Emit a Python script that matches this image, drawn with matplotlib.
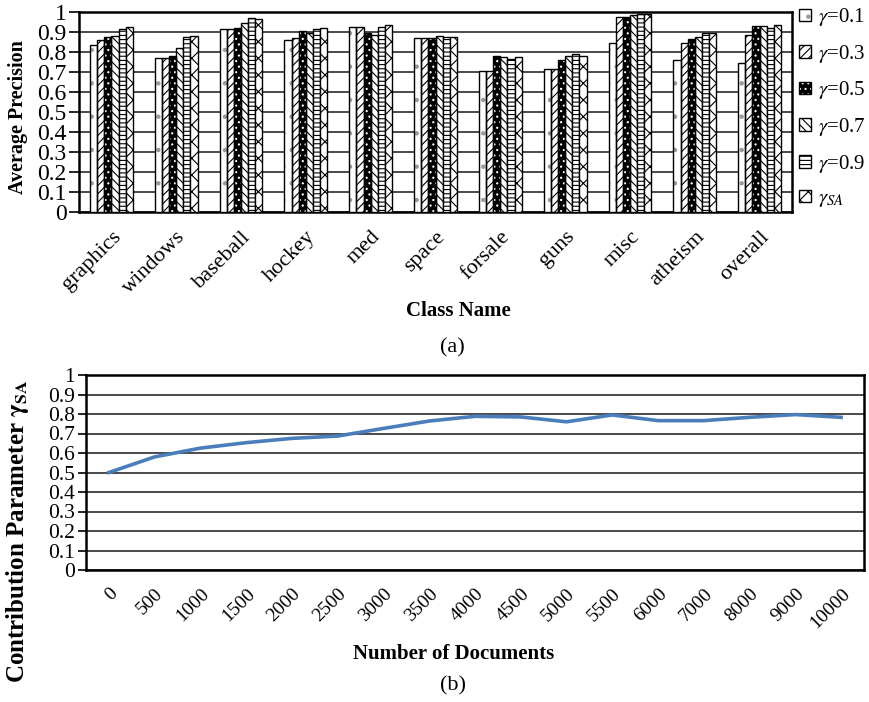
import numpy as np
import matplotlib
matplotlib.use("Agg")
from matplotlib import pyplot as plt
from matplotlib.patches import Patch
from matplotlib.legend_handler import HandlerTuple

plt.rcParams['font.family'] = ['Liberation Serif', 'DejaVu Serif']
plt.rcParams['mathtext.fontset'] = 'stix'
plt.rcParams['hatch.linewidth'] = 0.8

# (a) average precision per class
classes = ['graphics', 'windows', 'baseball', 'hockey', 'med', 'space',
           'forsale', 'guns', 'misc', 'atheism', 'overall']
ap_g01 = [0.837, 0.768, 0.917, 0.862, 0.927, 0.870, 0.707, 0.715, 0.847, 0.758, 0.747]
ap_g03 = [0.858, 0.768, 0.913, 0.872, 0.927, 0.870, 0.707, 0.715, 0.973, 0.845, 0.885]
ap_g05 = [0.875, 0.782, 0.920, 0.905, 0.895, 0.870, 0.780, 0.758, 0.973, 0.863, 0.928]
ap_g07 = [0.880, 0.818, 0.947, 0.897, 0.887, 0.878, 0.777, 0.778, 0.987, 0.873, 0.932]
ap_g09 = [0.917, 0.877, 0.972, 0.917, 0.927, 0.873, 0.767, 0.790, 0.992, 0.893, 0.920]
ap_gsa = [0.923, 0.880, 0.967, 0.922, 0.937, 0.873, 0.777, 0.782, 0.992, 0.895, 0.933]
series_labels = [r'$\gamma$=0.1', r'$\gamma$=0.3', r'$\gamma$=0.5',
                 r'$\gamma$=0.7', r'$\gamma$=0.9', r'$\gamma_{SA}$']

# (b) contribution parameter vs number of documents
doc_labels = ['0', '500', '1000', '1500', '2000', '2500', '3000', '3500', '4000',
              '4500', '5000', '5500', '6000', '7000', '8000', '9000', '10000']
gamma_sa = [0.500, 0.580, 0.625, 0.653, 0.675, 0.687, 0.726, 0.764, 0.788,
            0.785, 0.760, 0.795, 0.766, 0.766, 0.783, 0.797, 0.783]

ytick_text = ['0', '0.1', '0.2', '0.3', '0.4', '0.5', '0.6', '0.7', '0.8', '0.9', '1']

fig = plt.figure(figsize=(8.69, 7.02), dpi=100)
grid_kw = dict(color='#2b2b2b', linewidth=1.2)

# ---- top: grouped bars ----
ax1 = fig.add_axes([79/869, 1-212/702, 713/869, 200/702])
series = [ap_g01, ap_g03, ap_g05, ap_g07, ap_g09, ap_gsa]
hatches = ['.', '////', '...', '\\\\\\\\', '----', 'xx']
x = np.arange(len(classes))
w = 0.11
handles = []
for i, vals in enumerate(series):
    pos = x + (i - 2.5) * w
    if i == 2:
        # black bars with white dots
        ax1.bar(pos, vals, w, facecolor='black', edgecolor='white', hatch=hatches[i], lw=0, zorder=3)
        ax1.bar(pos, vals, w, fill=False, edgecolor='black', lw=1.0, zorder=4)
        h = (Patch(facecolor='black', edgecolor='white', hatch=hatches[i], lw=0),
             Patch(fill=False, edgecolor='black', lw=1.0))
    elif i == 0:
        # faint grey dots on white
        ax1.bar(pos, vals, w, facecolor='white', edgecolor='#9a9a9a', hatch=hatches[i], lw=0, zorder=3)
        ax1.bar(pos, vals, w, fill=False, edgecolor='black', lw=1.0, zorder=4)
        h = (Patch(facecolor='white', edgecolor='#9a9a9a', hatch=hatches[i], lw=0),
             Patch(fill=False, edgecolor='black', lw=1.0))
    else:
        ax1.bar(pos, vals, w, facecolor='white', edgecolor='black', hatch=hatches[i], lw=1.0, zorder=3)
        h = Patch(facecolor='white', edgecolor='black', hatch=hatches[i], lw=1.0)
    handles.append(h)

ax1.set_xlim(-0.5, len(classes) - 0.5)
ax1.set_ylim(0, 1)
ax1.set_yticks(np.arange(0, 1.01, 0.1))
ax1.set_yticklabels(ytick_text)
ax1.yaxis.grid(True, **grid_kw)
ax1.set_axisbelow(True)
ax1.set_xticks(x)
ax1.set_xticklabels(classes, rotation=45, ha='right', va='top', rotation_mode='anchor')
ax1.tick_params(axis='x', length=0, labelsize=16, pad=11)
ax1.tick_params(axis='y', length=7, width=1.2, labelsize=17, pad=2)
for s in ax1.spines.values():
    s.set_linewidth(1.8)
ax1.legend(handles, series_labels, handler_map={tuple: HandlerTuple(ndivide=1)},
           loc='upper left', bbox_to_anchor=(1.0, 1.065), frameon=False,
           fontsize=15, handlelength=0.55, handleheight=0.55, handletextpad=0.35,
           labelspacing=0.7, borderaxespad=0.0, borderpad=0.35)

fig.text(18/869, 1-117/702, 'Average Precision', rotation=90, ha='center', va='center',
         fontsize=14.5, fontweight='bold')
fig.text(458/869, 1-311/702, 'Class Name', ha='center', va='center', fontsize=15, fontweight='bold')
fig.text(452/869, 1-348/702, '(a)', ha='center', va='center', fontsize=16)

# ---- bottom: line ----
ax2 = fig.add_axes([86/869, 1-570/702, 778/869, 195/702])
xi = np.arange(len(doc_labels))
ax2.plot(xi, gamma_sa, color='#4a7ebb', lw=2.6, zorder=3)
ax2.set_xlim(-0.5, len(doc_labels) - 0.5)
ax2.set_ylim(0, 1)
ax2.set_yticks(np.arange(0, 1.01, 0.1))
ax2.set_yticklabels(ytick_text)
ax2.yaxis.grid(True, **grid_kw)
ax2.set_axisbelow(True)
ax2.set_xticks(xi)
ax2.set_xticklabels(doc_labels, rotation=45, ha='right', va='top', rotation_mode='anchor')
ax2.tick_params(axis='x', length=0, labelsize=14, pad=11)
ax2.tick_params(axis='y', length=6, width=1.2, labelsize=15.5, pad=2)
for s in ax2.spines.values():
    s.set_linewidth(1.8)

fig.text(18/869, 1-531/702, r'Contribution Parameter $\mathbf{\gamma_{SA}}$', rotation=90,
         ha='center', va='center', fontsize=18, fontweight='bold')
fig.text(454/869, 1-654/702, 'Number of Documents', ha='center', va='center',
         fontsize=15, fontweight='bold')
fig.text(453/869, 1-686/702, '(b)', ha='center', va='center', fontsize=16)

fig.savefig('out.png', dpi=100)
